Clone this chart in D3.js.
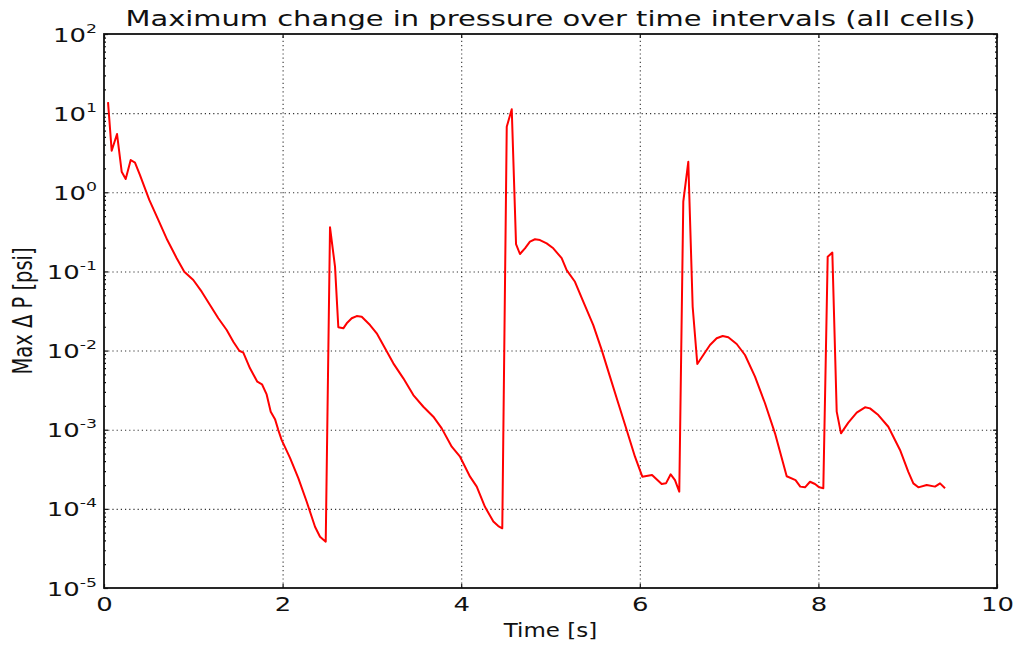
<!DOCTYPE html>
<html lang="en">
<head>
    <meta charset="UTF-8">
    <title>Maximum change in pressure over time intervals (all cells)</title>
    <script src="https://cdnjs.cloudflare.com/ajax/libs/d3/7.8.5/d3.min.js"></script>
    <style>
        body {
            margin: 0;
            background: #fff;
            font-family: "DejaVu Sans", sans-serif;
        }
        .axis text {
            font-family: "DejaVu Sans", sans-serif;
            font-size: 19.5px;
            fill: #111;
        }
        .axis path { display: none; }
        .axis line { stroke: #111; stroke-width: 1.2; }
        .grid line { stroke: #333; stroke-width: 1.1; stroke-dasharray: 1.2,3; }
        .grid path { display: none; }
    </style>
</head>
<body>
    <div id="chart"></div>

    <script>
        // time [s] and max pressure change [psi]
        const time = [
            0.045, 0.086, 0.146, 0.198, 0.243, 0.299, 0.347, 0.403, 0.507, 0.608,
            0.709, 0.814, 0.899, 1.000, 1.094, 1.187, 1.280, 1.374, 1.448, 1.515,
            1.560, 1.635, 1.717, 1.769, 1.820, 1.867, 1.915, 1.952, 1.990, 2.083,
            2.176, 2.270, 2.363, 2.419, 2.483, 2.531, 2.587, 2.624, 2.680, 2.718,
            2.774, 2.830, 2.886, 2.979, 3.054, 3.147, 3.240, 3.352, 3.464, 3.576,
            3.688, 3.782, 3.894, 3.987, 4.099, 4.174, 4.266, 4.360, 4.415, 4.460,
            4.510, 4.566, 4.614, 4.658, 4.714, 4.770, 4.826, 4.882, 4.957, 5.031,
            5.125, 5.181, 5.274, 5.367, 5.479, 5.573, 5.666, 5.759, 5.853, 5.946,
            6.028, 6.137, 6.245, 6.293, 6.346, 6.394, 6.442, 6.487, 6.543, 6.592,
            6.644, 6.711, 6.786, 6.861, 6.928, 6.991, 7.085, 7.178, 7.290, 7.402,
            7.514, 7.645, 7.744, 7.797, 7.850, 7.906, 7.962, 8.010, 8.055, 8.104,
            8.156, 8.205, 8.253, 8.335, 8.429, 8.522, 8.578, 8.671, 8.783, 8.914,
            9.007, 9.063, 9.119, 9.213, 9.306, 9.362, 9.418
        ];
        const maxDP = [
            13.8, 3.35, 5.45, 1.82, 1.47, 2.56, 2.37, 1.65, 0.80, 0.447,
            0.249, 0.147, 0.099, 0.078, 0.0555, 0.0377, 0.0256, 0.0182, 0.01294, 0.00995,
            0.0094, 0.00597, 0.00404, 0.00375, 0.00282, 0.00169, 0.00136, 0.00099, 0.00074, 0.00044,
            0.000245, 0.000123, 5.94e-5, 4.45e-5, 3.85e-5, 0.361, 0.115, 0.0197, 0.0191, 0.0221,
            0.0256, 0.0273, 0.0268, 0.0210, 0.0165, 0.0107, 0.0069, 0.00446, 0.00274, 0.00195,
            0.00146, 0.00104, 0.00061, 0.000456, 0.000255, 0.000191, 0.000106, 6.9e-5, 6.07e-5, 5.68e-5,
            6.74, 11.2, 0.222, 0.166, 0.196, 0.238, 0.255, 0.249, 0.226, 0.196,
            0.147, 0.104, 0.074, 0.0414, 0.0210, 0.0102, 0.00468, 0.00216, 0.00099, 0.000456,
            0.000255, 0.000268, 0.000206, 0.00021, 0.000273, 0.000231, 0.000165, 0.76, 2.43, 0.0358,
            0.00676, 0.00879, 0.01175, 0.0143, 0.01528, 0.0147, 0.0121, 0.00879, 0.00468, 0.00216,
            0.0009, 0.000258, 0.000231, 0.000191, 0.000187, 0.00022, 0.000206, 0.000187, 0.000182, 0.153,
            0.173, 0.00169, 0.0009, 0.00123, 0.00164, 0.00192, 0.00186, 0.00153, 0.00109, 0.000555,
            0.000294, 0.00021, 0.000187, 0.0002, 0.000191, 0.00021, 0.000182
        ];
        const xTicks = [0, 2, 4, 6, 8, 10];
        const yExponents = [-5, -4, -3, -2, -1, 0, 1, 2];

        const W = 1015, H = 647;
        const margin = {top: 34, right: 18, bottom: 59, left: 104};
        const width = W - margin.left - margin.right;
        const height = H - margin.top - margin.bottom;
        const stretch = 1.33; // the reference text is drawn wide

        const svg = d3.select("#chart")
            .append("svg")
            .attr("width", W)
            .attr("height", H);

        const g = svg.append("g")
            .attr("transform", `translate(${margin.left},${margin.top})`);

        const x = d3.scaleLinear().domain([0, 10]).range([0, width]);
        const y = d3.scaleLog().domain([1e-5, 1e2]).range([height, 0]);

        const majorY = yExponents.map(e => Math.pow(10, e));
        const minorY = [];
        yExponents.slice(0, -1).forEach(e => {
            for (let k = 2; k <= 9; k++) minorY.push(k * Math.pow(10, e));
        });

        // dotted grid
        g.append("g")
            .attr("class", "grid")
            .attr("transform", `translate(0,${height})`)
            .call(d3.axisBottom(x).tickValues(xTicks.slice(1, -1)).tickSize(-height).tickFormat(""));
        g.append("g")
            .attr("class", "grid")
            .call(d3.axisLeft(y).tickValues(majorY.slice(1, -1)).tickSize(-width).tickFormat(""));

        // the series
        const pts = time.map((t, i) => [t, maxDP[i]]);
        g.append("path")
            .datum(pts)
            .attr("fill", "none")
            .attr("stroke", "#ff0000")
            .attr("stroke-width", 2)
            .attr("stroke-linejoin", "round")
            .attr("d", d3.line().x(d => x(d[0])).y(d => y(d[1])));

        // ticks pointing inward on all four sides
        const bottom = g.append("g")
            .attr("class", "axis")
            .attr("transform", `translate(0,${height})`)
            .call(d3.axisBottom(x).tickValues(xTicks).tickSize(-4).tickPadding(8).tickFormat(d3.format("d")));
        bottom.selectAll("text")
            .attr("dy", "0.76em")
            .attr("transform", `scale(${stretch},1)`);

        g.append("g")
            .attr("class", "axis")
            .call(d3.axisTop(x).tickValues(xTicks).tickSize(-4).tickFormat(""));

        const left = g.append("g")
            .attr("class", "axis")
            .call(d3.axisLeft(y).tickValues(majorY).tickSize(-4).tickFormat(""));
        g.append("g")
            .attr("class", "axis")
            .call(d3.axisLeft(y).tickValues(minorY).tickSize(-2).tickFormat(""));

        g.append("g")
            .attr("class", "axis")
            .attr("transform", `translate(${width},0)`)
            .call(d3.axisRight(y).tickValues(majorY).tickSize(-4).tickFormat(""));
        g.append("g")
            .attr("class", "axis")
            .attr("transform", `translate(${width},0)`)
            .call(d3.axisRight(y).tickValues(minorY).tickSize(-2).tickFormat(""));

        // 10^n labels with superscripts
        left.selectAll(".tick").each(function(d) {
            const e = Math.round(Math.log10(d));
            const txt = d3.select(this).append("text")
                .attr("transform", `translate(-7,7) scale(${stretch},1)`)
                .attr("text-anchor", "end")
                .attr("fill", "#111");
            txt.append("tspan").text("10");
            txt.append("tspan")
                .attr("font-size", "13px")
                .attr("dy", -9)
                .text(e);
        });

        // frame
        g.append("rect")
            .attr("width", width)
            .attr("height", height)
            .attr("fill", "none")
            .attr("stroke", "#111")
            .attr("stroke-width", 1.8);

        // titles
        svg.append("text")
            .attr("transform", `translate(${margin.left + width / 2},26) scale(1.315,1)`)
            .attr("text-anchor", "middle")
            .attr("font-size", "22px")
            .attr("fill", "#111")
            .text("Maximum change in pressure over time intervals (all cells)");

        svg.append("text")
            .attr("transform", `translate(${margin.left + width / 2},637) scale(1.21,1)`)
            .attr("text-anchor", "middle")
            .attr("font-size", "19px")
            .attr("fill", "#111")
            .text("Time [s]");

        svg.append("text")
            .attr("transform", `translate(32,${margin.top + height / 2}) scale(${stretch},1) rotate(-90)`)
            .attr("text-anchor", "middle")
            .attr("font-size", "19.5px")
            .attr("fill", "#111")
            .text("Max \u0394 P [psi]");
    </script>
</body>
</html>
